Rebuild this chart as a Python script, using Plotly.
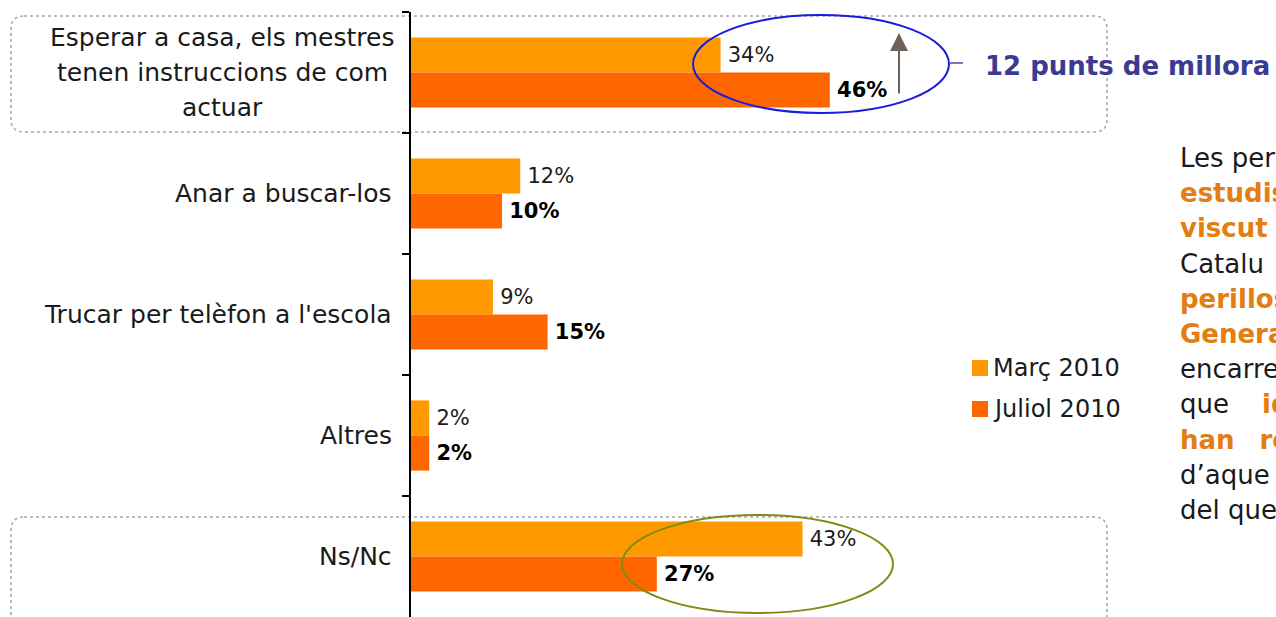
import plotly.graph_objects as go

# ---- data -------------------------------------------------------------
label_lines = [
    ["Esperar a casa, els mestres", "tenen instruccions de com", "actuar"],
    ["Anar a buscar-los"],
    ["Trucar per telèfon a l'escola"],
    ["Altres"],
    ["Ns/Nc"],
]
categories = ["<br>".join(lines) for lines in label_lines]

series_names = ["Març 2010", "Juliol 2010"]
marc_2010 = [34, 12, 9, 2, 43]
juliol_2010 = [46, 10, 15, 2, 27]

callout_text = "12 punts de millora"

# paragraph lines: (text, highlighted)
paragraph = [
    [("Les per", False)],
    [("estudis", True)],
    [("viscut", True)],
    [("Catalu", False)],
    [("perillos", True)],
    [("Genera", True)],
    [("encarre", False)],
    [("que", False), ("\u00a0\u00a0\u00a0\u00a0", False), ("id", True)],
    [("han", True), ("\u00a0\u00a0\u00a0", False), ("re", True)],
    [("d\u2019aque", False)],
    [("del que", False)],
]

# ---- styling / layout helpers ----------------------------------------
W, H = 1276, 617
L, T = 411, 12
FONT = "DejaVu Sans"
C_MARC = "#FF9900"
C_JULIOL = "#FF6600"
C_TEXT = "#1A1A1A"
C_HILITE = "#E47D12"
PX_PER_UNIT = 9.105


def px(x):
    return (x - L) / (W - L)


def py(y):
    return (H - y) / (H - T)


def rounded_rect(x0, y0, x1, y1, r):
    X0, X1 = px(x0), px(x1)
    Y0, Y1 = py(y0), py(y1)
    rx = r / (W - L)
    ry = r / (H - T)
    return (
        f"M{X0 + rx},{Y0} L{X1 - rx},{Y0} Q{X1},{Y0} {X1},{Y0 - ry} "
        f"L{X1},{Y1 + ry} Q{X1},{Y1} {X1 - rx},{Y1} "
        f"L{X0 + rx},{Y1} Q{X0},{Y1} {X0},{Y1 + ry} "
        f"L{X0},{Y0 - ry} Q{X0},{Y0} {X0 + rx},{Y0} Z"
    )


fig = go.Figure()
fig.add_trace(go.Bar(
    name=series_names[0], x=marc_2010, y=categories, orientation="h",
    marker=dict(color=C_MARC, line=dict(width=0)),
    texttemplate="\u2009%{x}%", textposition="outside", constraintext="none",
    textfont=dict(family=FONT, size=21, color=C_TEXT),
    cliponaxis=False, hoverinfo="skip",
))
fig.add_trace(go.Bar(
    name=series_names[1], x=juliol_2010, y=categories, orientation="h",
    marker=dict(color=C_JULIOL, line=dict(width=0)),
    texttemplate="\u2009<b>%{x}%</b>", textposition="outside", constraintext="none",
    textfont=dict(family=FONT, size=21, color="#000000"),
    cliponaxis=False, hoverinfo="skip",
))

annotations = []

# category labels
for cat, lines in zip(categories, label_lines):
    n = len(lines)
    for i, line in enumerate(lines):
        shift = ((n - 1) / 2 - i) * 35
        if n > 1:
            annotations.append(dict(
                xref="paper", yref="y", x=px(222), y=cat, xanchor="center",
                yanchor="middle", yshift=shift, text=line, showarrow=False,
                font=dict(family=FONT, size=25, color=C_TEXT)))
        else:
            annotations.append(dict(
                xref="paper", yref="y", x=px(394), y=cat, xanchor="right",
                yanchor="middle", yshift=shift, text=line, showarrow=False,
                font=dict(family=FONT, size=25, color=C_TEXT)))

# improvement arrow
annotations.append(dict(
    xref="paper", yref="paper", x=px(899), y=py(33),
    axref="pixel", ayref="pixel", ax=0, ay=62,
    text="", showarrow=True, arrowhead=2, arrowsize=1.8, arrowwidth=2,
    arrowcolor="#6E625A"))

# callout text
annotations.append(dict(
    xref="paper", yref="paper", x=px(983), y=py(66), xanchor="left",
    yanchor="middle", text=f"<b>{callout_text}</b>", showarrow=False,
    font=dict(family=FONT, size=26, color="#3B3B94")))

# legend
legend_colors = [C_MARC, C_JULIOL]
legend_rows = [368, 409]
shapes = []
for name, col, yy in zip(series_names, legend_colors, legend_rows):
    shapes.append(dict(type="rect", xref="paper", yref="paper",
                       x0=px(972), x1=px(988), y0=py(yy + 8), y1=py(yy - 8),
                       fillcolor=col, line=dict(width=0)))
    annotations.append(dict(
        xref="paper", yref="paper", x=px(991), y=py(yy), xanchor="left",
        yanchor="middle", text=name, showarrow=False,
        font=dict(family=FONT, size=24, color=C_TEXT)))

# side paragraph
for i, segs in enumerate(paragraph):
    parts = []
    for txt, hi in segs:
        if hi:
            parts.append(f"<span style='color:{C_HILITE}'><b>{txt}</b></span>")
        else:
            parts.append(txt)
    annotations.append(dict(
        xref="paper", yref="paper", x=px(1178), y=py(158 + i * 35.2),
        xanchor="left", yanchor="middle", text="".join(parts),
        showarrow=False, font=dict(family=FONT, size=26, color=C_TEXT)))

# dotted frames around first and last categories
for (x0, y0, x1, y1) in [(11, 16, 1107, 132), (11, 517, 1107, 645)]:
    shapes.append(dict(type="path", xref="paper", yref="paper",
                       path=rounded_rect(x0, y0, x1, y1, 13),
                       line=dict(color="#A6A6A6", width=1.5, dash="dot"),
                       layer="below"))

# highlight ellipses
shapes.append(dict(type="circle", xref="paper", yref="paper",
                   x0=px(693), x1=px(949), y0=py(113), y1=py(15),
                   line=dict(color="#1A1AE0", width=2), layer="above"))
shapes.append(dict(type="line", xref="paper", yref="paper",
                   x0=px(949), x1=px(963), y0=py(63), y1=py(63),
                   line=dict(color="#4B4BA5", width=1.5)))
shapes.append(dict(type="circle", xref="paper", yref="paper",
                   x0=px(622), x1=px(893), y0=py(613), y1=py(515),
                   line=dict(color="#7F8C13", width=2), layer="above"))

fig.update_layout(
    width=W, height=H,
    margin=dict(l=L, r=0, t=T, b=0, pad=0),
    paper_bgcolor="white", plot_bgcolor="white",
    barmode="group", bargap=0.42, bargroupgap=0,
    showlegend=False,
    xaxis=dict(range=[0, (W - L) / PX_PER_UNIT], visible=False, fixedrange=True),
    yaxis=dict(type="category", autorange="reversed", showline=True,
               linecolor="black", linewidth=2, ticks="outside",
               tickson="boundaries", ticklen=7, tickwidth=2, tickcolor="black",
               showticklabels=False, showgrid=False, zeroline=False,
               fixedrange=True),
    annotations=annotations,
    shapes=shapes,
)

fig.write_html("out.html")
